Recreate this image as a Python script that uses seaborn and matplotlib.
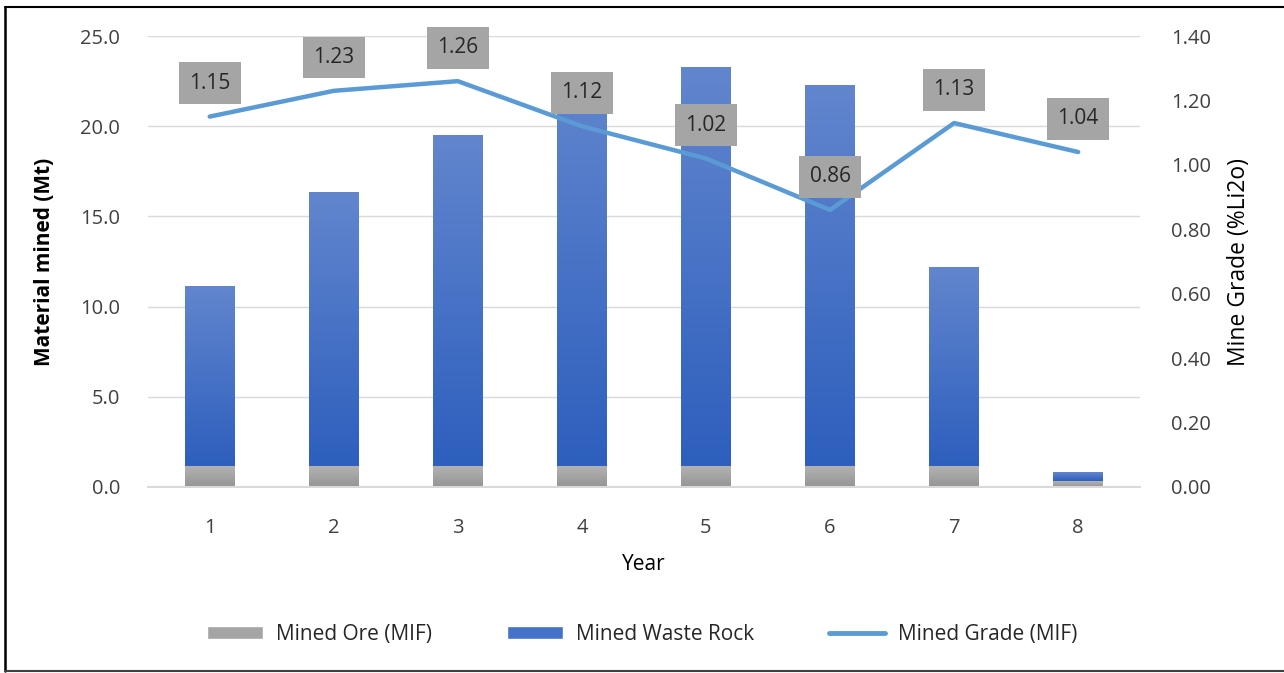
import numpy as np
import pandas as pd
import matplotlib
matplotlib.use("Agg")
import matplotlib.pyplot as plt
import seaborn as sns
from matplotlib.patches import Patch
from matplotlib.lines import Line2D
from matplotlib.colors import LinearSegmentedColormap

# Data
years = ["1", "2", "3", "4", "5", "6", "7", "8"]
mined_ore = [1.15, 1.15, 1.15, 1.15, 1.15, 1.15, 1.15, 0.33]
mined_waste = [9.95, 15.15, 18.3, 21.7, 22.1, 21.1, 11.0, 0.45]
mined_grade = [1.15, 1.23, 1.26, 1.12, 1.02, 0.86, 1.13, 1.04]

df = pd.DataFrame({"Year": years, "Ore": mined_ore, "Waste": mined_waste, "Grade": mined_grade})

sns.set_theme(style="white")
plt.rcParams["font.family"] = ["Open Sans", "DejaVu Sans"]

grey = "#A5A5A5"
blue = "#4372C8"
line_blue = "#5B9BD5"
grey_cmap = LinearSegmentedColormap.from_list("g", ["#959595", "#B2B2B2"])
blue_cmap = LinearSegmentedColormap.from_list("b", ["#2D5FBD", "#6286CE"])

fig = plt.figure(figsize=(12.84, 6.73), dpi=100)
ax = fig.add_axes([0.115, 0.2764, 0.773, 0.67])

# Stacked bars
sns.barplot(data=df, x="Year", y="Ore", color=grey, width=0.4, saturation=1, linewidth=0, ax=ax)
n_ore = len(ax.patches)
sns.barplot(data=df, x="Year", y="Waste", bottom=df["Ore"], color=blue, width=0.4, saturation=1,
            linewidth=0, ax=ax)

# gradient fill like the spreadsheet bars
grad = np.linspace(0, 1, 256).reshape(-1, 1)
for i, p in enumerate(ax.patches):
    x0, y0 = p.get_x(), p.get_y()
    w, h = p.get_width(), p.get_height()
    cmap = grey_cmap if i < n_ore else blue_cmap
    ax.imshow(grad, cmap=cmap, origin="lower", aspect="auto", extent=[x0, x0 + w, y0, y0 + h],
              zorder=2, interpolation="bilinear")
    p.set_visible(False)

ax.set_xlim(-0.5, 7.5)
ax.set_ylim(0, 25)
ax.set_yticks(np.arange(0, 25.1, 5))
ax.set_yticklabels([f"{v:.1f}" for v in np.arange(0, 25.1, 5)])
ax.grid(axis="y", color="#D9D9D9", linewidth=1)
ax.set_axisbelow(True)
for s in ["top", "right", "left"]:
    ax.spines[s].set_visible(False)
ax.spines["bottom"].set_color("#D9D9D9")
ax.spines["bottom"].set_linewidth(1.5)
ax.tick_params(axis="x", length=0, labelsize=14.5, colors="#404040", pad=22)
ax.tick_params(axis="y", length=0, labelsize=14.5, colors="#404040", pad=20)
ax.set_xlabel("Year", fontsize=15, color="black", labelpad=12)
ax.set_ylabel("Material mined (Mt)", fontsize=15, fontweight="bold", color="black", labelpad=18)

# Grade line on secondary axis
ax2 = ax.twinx()
x_pos = np.arange(len(years))
sns.lineplot(x=x_pos, y=df["Grade"], color=line_blue, linewidth=3.2, ax=ax2)
ax2.set_ylim(0, 1.4)
ax2.set_yticks(np.arange(0, 1.41, 0.2))
ax2.set_yticklabels([f"{v:.2f}" for v in np.arange(0, 1.41, 0.2)])
for s in ["top", "right", "left", "bottom"]:
    ax2.spines[s].set_visible(False)
ax2.tick_params(axis="y", length=0, labelsize=14.5, colors="#404040", pad=22)
ax2.set_ylabel("Mine Grade (%Li2o)", fontsize=16.5, color="black", labelpad=12)
ax2.set_xlim(-0.5, 7.5)

for xi, g in zip(x_pos, mined_grade):
    ax2.annotate(f"{g:.2f}", (xi, g), xytext=(0, 24), textcoords="offset points",
                 ha="center", va="center", fontsize=15, color="#262626",
                 bbox=dict(boxstyle="square,pad=0.5", fc=grey, ec="none"))

handles = [Patch(facecolor=grey, label="Mined Ore (MIF)"),
           Patch(facecolor=blue, label="Mined Waste Rock"),
           Line2D([0], [0], color=line_blue, linewidth=3.5, label="Mined Grade (MIF)")]
fig.legend(handles=handles, loc="center", bbox_to_anchor=(0.5, 0.057), ncol=3, frameon=False,
           fontsize=15, handlelength=2.7, handleheight=0.6, columnspacing=3.6, handletextpad=0.6,
           labelcolor="#262626")

# outer border (left, top, bottom; the right side is cut off in the reference)
fig.add_artist(Line2D([5 / 1284, 5 / 1284], [1 - 7 / 673, 1 - 671 / 673], color="black", lw=1.8,
                      transform=fig.transFigure))
fig.add_artist(Line2D([5 / 1284, 1], [1 - 7 / 673, 1 - 7 / 673], color="black", lw=1.5,
                      transform=fig.transFigure))
fig.add_artist(Line2D([5 / 1284, 1], [1 - 671 / 673, 1 - 671 / 673], color="#404040", lw=1.5,
                      transform=fig.transFigure))

fig.savefig("out.png", dpi=100)
